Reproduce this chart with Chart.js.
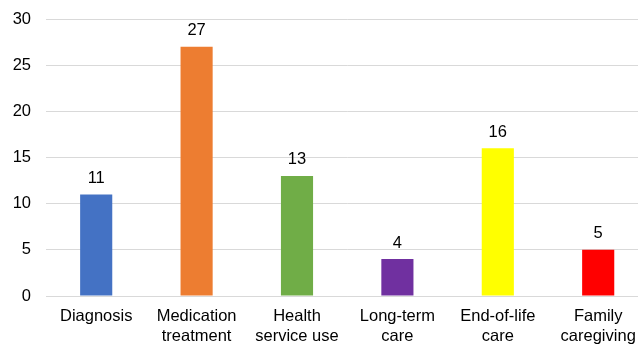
<!DOCTYPE html>
<html>
<head>
<meta charset="utf-8">
<script src="https://cdn.jsdelivr.net/npm/chart.js@4"></script>
<style>
  html, body { margin: 0; padding: 0; background: #fff; overflow: hidden; }
  #wrap { width: 650px; height: 344px; position: relative; }
</style>
</head>
<body>
<div id="wrap"><canvas id="c"></canvas></div>
<script>
// Topic areas and number of studies in each
const categories = [
  ["Diagnosis"],
  ["Medication", "treatment"],
  ["Health", "service use"],
  ["Long-term", "care"],
  ["End-of-life", "care"],
  ["Family", "caregiving"]
];
const counts = [11, 27, 13, 4, 16, 5];
const barColors = ["#4472C4", "#ED7D31", "#70AD47", "#7030A0", "#FFFF00", "#FF0000"];
const yTicks = [0, 5, 10, 15, 20, 25, 30];

const FONT = "'Liberation Sans', Arial, sans-serif";

// Writes each bar's value just above it
const valueLabels = {
  id: "valueLabels",
  afterDatasetsDraw(chart) {
    const ctx = chart.ctx;
    const meta = chart.getDatasetMeta(0);
    ctx.save();
    ctx.font = "16.5px " + FONT;
    ctx.fillStyle = "#000";
    ctx.textAlign = "center";
    ctx.textBaseline = "alphabetic";
    meta.data.forEach((bar, i) => {
      ctx.fillText(String(chart.data.datasets[0].data[i]), bar.x, bar.y - 11.5);
    });
    ctx.restore();
  }
};

// Keeps the plot area pinned to its intended vertical span
const plotBounds = {
  id: "plotBounds",
  afterLayout(chart) {
    const y = chart.scales.y;
    const top = 19, bottom = 296;
    y.top = top; y.bottom = bottom; y.height = bottom - top;
    chart.chartArea.top = top; chart.chartArea.bottom = bottom;
    chart.chartArea.height = bottom - top;
    y.configure();
  }
};

new Chart(document.getElementById("c"), {
  type: "bar",
  data: {
    labels: categories,
    datasets: [{
      data: counts,
      backgroundColor: barColors,
      borderWidth: 0,
      categoryPercentage: 1.0,
      barPercentage: 0.32
    }]
  },
  options: {
    responsive: true,
    maintainAspectRatio: false,
    animation: false,
    devicePixelRatio: 1,
    layout: { padding: { top: 19, right: 1.6, bottom: 0, left: 0 } },
    plugins: {
      legend: { display: false },
      tooltip: { enabled: false }
    },
    scales: {
      x: {
        grid: { display: false, drawTicks: false },
        border: { display: true, color: "#d9d9d9", width: 1 },
        ticks: {
          color: "#000",
          font: { family: FONT, size: 16.5, lineHeight: 1.22 },
          padding: 10,
          maxRotation: 0,
          autoSkip: false
        },
        afterFit(scale) { scale.height = 48; }
      },
      y: {
        min: 0,
        max: 30,
        grid: { color: "#d9d9d9", lineWidth: 1, drawTicks: false },
        border: { display: false },
        afterBuildTicks(scale) { scale.ticks = yTicks.map(v => ({ value: v })); },
        ticks: {
          color: "#000",
          font: { family: FONT, size: 16.5 },
          padding: 15
        },
        afterFit(scale) { scale.width = 46; }
      }
    }
  },
  plugins: [valueLabels, plotBounds]
});
</script>
</body>
</html>
